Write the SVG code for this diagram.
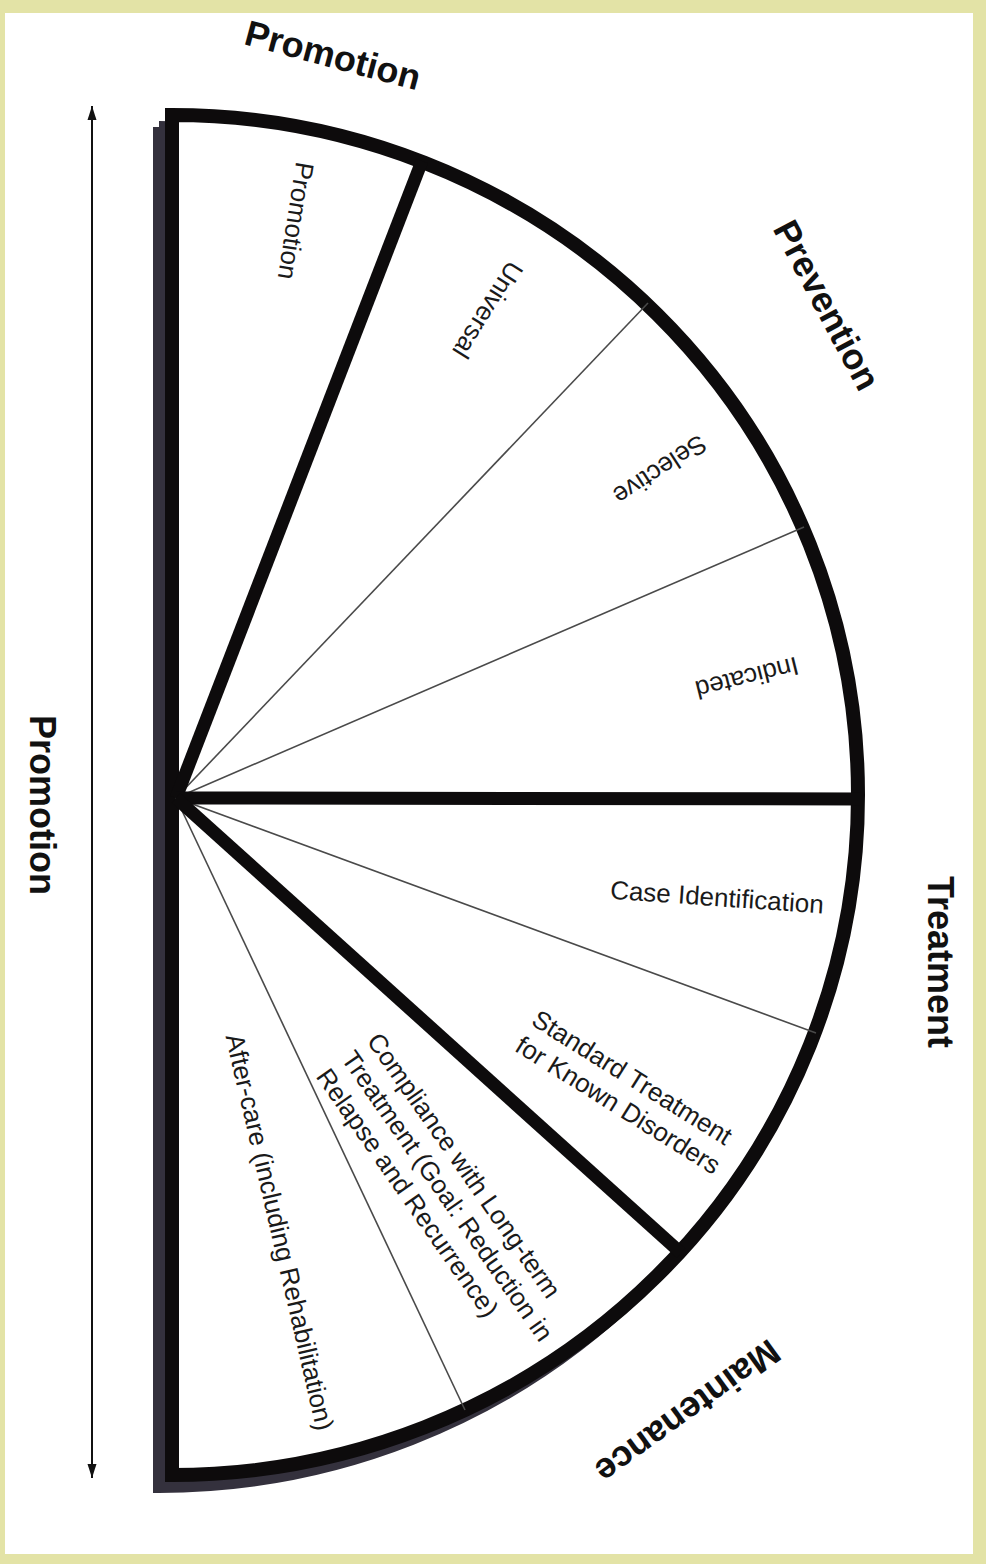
<svg xmlns="http://www.w3.org/2000/svg" width="986" height="1564" viewBox="0 0 986 1564">
<style>
.title{font-family:"Liberation Sans",Arial,sans-serif;font-weight:bold;font-size:36px;fill:#111;text-anchor:middle}
.lbl{font-family:"Liberation Sans",Arial,sans-serif;font-size:26px;fill:#1a1a1a}
.mid{text-anchor:middle}
.thick{stroke:#0d0b0c;stroke-width:13;fill:none}
.thin{stroke:#4a4a4a;stroke-width:1.6;fill:none}
</style>
<defs>
<marker id="ah" markerUnits="userSpaceOnUse" markerWidth="16" markerHeight="10" refX="14" refY="5" orient="auto-start-reverse">
<path d="M0,0.5 L14,5 L0,9.5 z" fill="#111"/>
</marker>
</defs>
<rect x="0" y="0" width="986" height="1564" fill="#e3e3a6"/>
<rect x="5" y="13" width="968" height="1541" fill="#ffffff"/>

<g id="shadow">
<path d="M159,127 L159,1487 A686 680 0 0 0 159,127" fill="none" stroke="#34313d" stroke-width="12"/>
</g>

<g id="fan">
<path d="M172,115 L172,1475 A686 680 0 0 0 172,115 Z" fill="#ffffff" stroke="#0d0b0c" stroke-width="14" stroke-linejoin="miter"/>
</g>

<g id="connectors">
<line class="thin" x1="176" y1="798" x2="648" y2="303"/>
<line class="thin" x1="176" y1="798" x2="804" y2="527"/>
<line class="thin" x1="176" y1="798" x2="816" y2="1033"/>
<line class="thin" x1="176" y1="798" x2="465" y2="1410"/>
<line class="thick" x1="176" y1="798" x2="422" y2="161"/>
<line class="thick" x1="176" y1="798" x2="860" y2="799"/>
<line class="thick" x1="176" y1="798" x2="681" y2="1253"/>
<line x1="92" y1="106" x2="92" y2="1478" stroke="#111" stroke-width="2" marker-start="url(#ah)" marker-end="url(#ah)"/>
</g>

<g id="title-promotion-top"><text class="title" transform="translate(333,55) rotate(15)" dy="0.35em">Promotion</text></g>
<g id="title-prevention"><text class="title" transform="translate(827,305) rotate(62)" dy="0.35em">Prevention</text></g>
<g id="title-treatment"><text class="title" transform="translate(941,962) rotate(90)" dy="0.35em">Treatment</text></g>
<g id="title-maintenance"><text class="title" transform="translate(688,1412) rotate(144)" dy="0.35em">Maintenance</text></g>
<g id="title-promotion-left"><text class="title" transform="translate(43,805) rotate(90)" dy="0.35em">Promotion</text></g>

<g id="seg-promotion"><text class="lbl mid" transform="translate(296,221) rotate(99)" dy="0.35em">Promotion</text></g>
<g id="seg-universal"><text class="lbl mid" transform="translate(488,310) rotate(122)" dy="0.35em">Universal</text></g>
<g id="seg-selective"><text class="lbl mid" transform="translate(660,470) rotate(147)" dy="0.35em">Selective</text></g>
<g id="seg-indicated"><text class="lbl mid" transform="translate(747,678) rotate(166)" dy="0.35em">Indicated</text></g>
<g id="seg-case"><text class="lbl mid" transform="translate(717,897) rotate(4)" dy="0.35em">Case Identification</text></g>
<g id="seg-standard"><text class="lbl" transform="translate(530,1024) rotate(32)"><tspan x="0" y="0">Standard Treatment</tspan><tspan x="0" y="31">for Known Disorders</tspan></text></g>
<g id="seg-compliance"><text class="lbl" transform="translate(366,1041) rotate(55)"><tspan x="0" y="0">Compliance with Long-term</tspan><tspan x="0" y="31">Treatment (Goal: Reduction in</tspan><tspan x="0" y="62">Relapse and Recurrence)</tspan></text></g>
<g id="seg-aftercare"><text class="lbl mid" transform="translate(280,1232) rotate(77)" dy="0.35em">After-care (including Rehabilitation)</text></g>
</svg>
